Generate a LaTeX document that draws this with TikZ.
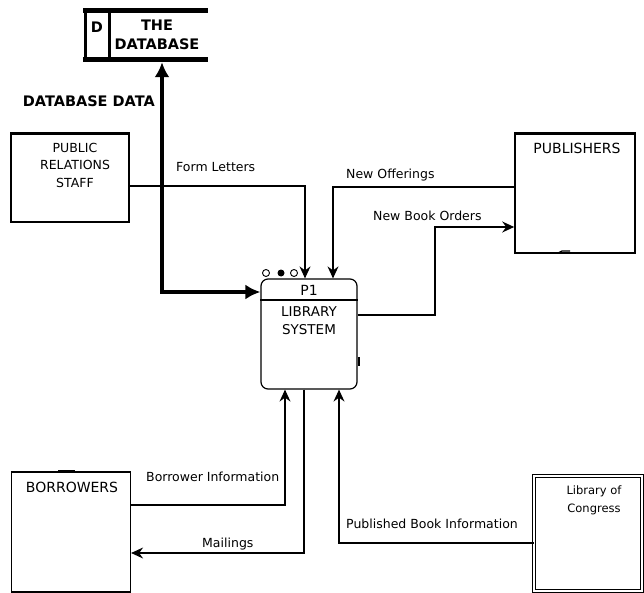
\documentclass[tikz,border=0pt]{standalone}
\usepackage{fontspec}
\setmainfont{DejaVu Sans}
\usetikzlibrary{arrows.meta}
\begin{document}
\begin{tikzpicture}[x=1pt,y=-1pt,
  box/.style={draw,line width=1.2pt,inner sep=0pt},
  flow/.style={line width=1.3pt,-{Stealth[length=12pt,width=11pt,inset=4pt]}},
  dbflow/.style={line width=4pt,{Latex[length=15pt,width=15pt]}-{Latex[length=15pt,width=15pt]}},
  lbl/.style={font=\fontsize{12.5}{14}\selectfont,inner sep=0pt},
  boxlbl/.style={font=\fontsize{14}{16}\selectfont,inner sep=0pt,align=center},
  boldlbl/.style={font=\bfseries\fontsize{14.5}{19}\selectfont,inner sep=0pt,align=center},
  hole/.style={draw,line width=0.9pt,circle,inner sep=0pt,minimum size=7pt},
  dot/.style={fill,circle,inner sep=0pt,minimum size=7pt}
]
\useasboundingbox (0,0) rectangle (644,593);

% data store
\node[inner sep=0pt,minimum width=125pt,minimum height=53pt] (db) at (145.5,35.5) {};
\draw[line width=5pt] (83,10.5) -- (208,10.5);
\draw[line width=5pt] (83,59.5) -- (208,59.5);
\draw[line width=3pt] (85,10) -- (85,60);
\draw[line width=3pt] (109,10) -- (109,60);
\node[boldlbl] (dbid) at (97,27) {D};
\node[boldlbl] (dbname) at (157,35) {THE\\DATABASE};
\node[boldlbl,anchor=east] (dblbl) at (155,101) {DATABASE DATA};

% public relations staff
\node[box,minimum width=118pt,minimum height=88pt] (pr) at (70,178) {};
\draw[line width=2.2pt] (pr.north west) -- (pr.north east);
\node[boxlbl,font=\fontsize{12.5}{17.5}\selectfont] (prtxt) at (75,165) {PUBLIC\\RELATIONS\\STAFF};

% publishers
\node[box,minimum width=120pt,minimum height=119pt,line width=1.6pt] (pub) at (575,193.5) {};
\draw[line width=2.4pt] (pub.north west) -- (pub.north east);
\draw[line width=1.2pt] (558,253) -- (562,251) -- (570,251);
\node[boxlbl] (pubtxt) at (577,148) {PUBLISHERS};

% process
\node[draw,line width=1.2pt,rounded corners=7pt,minimum width=96pt,minimum height=110pt] (proc) at (309,334) {};
\draw[line width=1.2pt] (proc.west |- 0,300) -- (proc.east |- 0,300);
\node[lbl,font=\fontsize{14}{16}\selectfont] (pid) at (309,290) {P1};
\node[boxlbl,font=\fontsize{13.5}{18}\selectfont] (pname) at (309,321) {LIBRARY\\SYSTEM};
\draw[line width=2pt] (358.5,357) -- (358.5,366);
\node[hole] (c1) at (266,273) {};
\node[dot] (c2) at (281,273) {};
\node[hole] (c3) at (294,273) {};

% borrowers
\node[box,minimum width=119pt,minimum height=120pt] (bor) at (71,532) {};
\draw[line width=1.8pt] (bor.north west) -- (bor.north east);
\draw[line width=1.2pt] (58,471) -- (75,471);
\node[boxlbl] (bortxt) at (72,487) {BORROWERS};

% library of congress
\node[draw,double,double distance=1.6pt,line width=0.9pt,minimum width=108pt,minimum height=115pt,inner sep=0pt] (loc) at (588,533.5) {};
\node[boxlbl,font=\fontsize{11.5}{18}\selectfont] (loctxt) at (594,500) {Library of\\Congress};

% flows
\coordinate (nbo) at (435,227);
\draw[flow] (pr.east |- 0,186) -| (proc.north -| 305,0);
\draw[flow] (pub.west |- 0,187) -| (proc.north -| 333,0);
\draw[flow] (proc.east |- 0,315) -| (nbo) -- (pub.west |- nbo);
\draw[flow] (bor.east |- 0,505) -| (proc.south -| 285,0);
\draw[flow] (proc.south -| 304,0) |- (bor.east |- 0,553);
\draw[flow] (loc.west |- 0,543) -| (proc.south -| 339,0);
\draw[dbflow] (db.south -| 162,0) |- (proc.west |- 0,292);

% flow labels
\node[lbl,anchor=west] (l1) at (176,167) {Form Letters};
\node[lbl,anchor=west] (l2) at (346,175) {New Offerings};
\node[lbl,anchor=west] (l3) at (373,216) {New Book Orders};
\node[lbl,anchor=west] (l4) at (146,477) {Borrower Information};
\node[lbl,anchor=west] (l5) at (202,544) {Mailings};
\node[lbl,anchor=west] (l6) at (346,524) {Published Book Information};
\end{tikzpicture}
\end{document}
